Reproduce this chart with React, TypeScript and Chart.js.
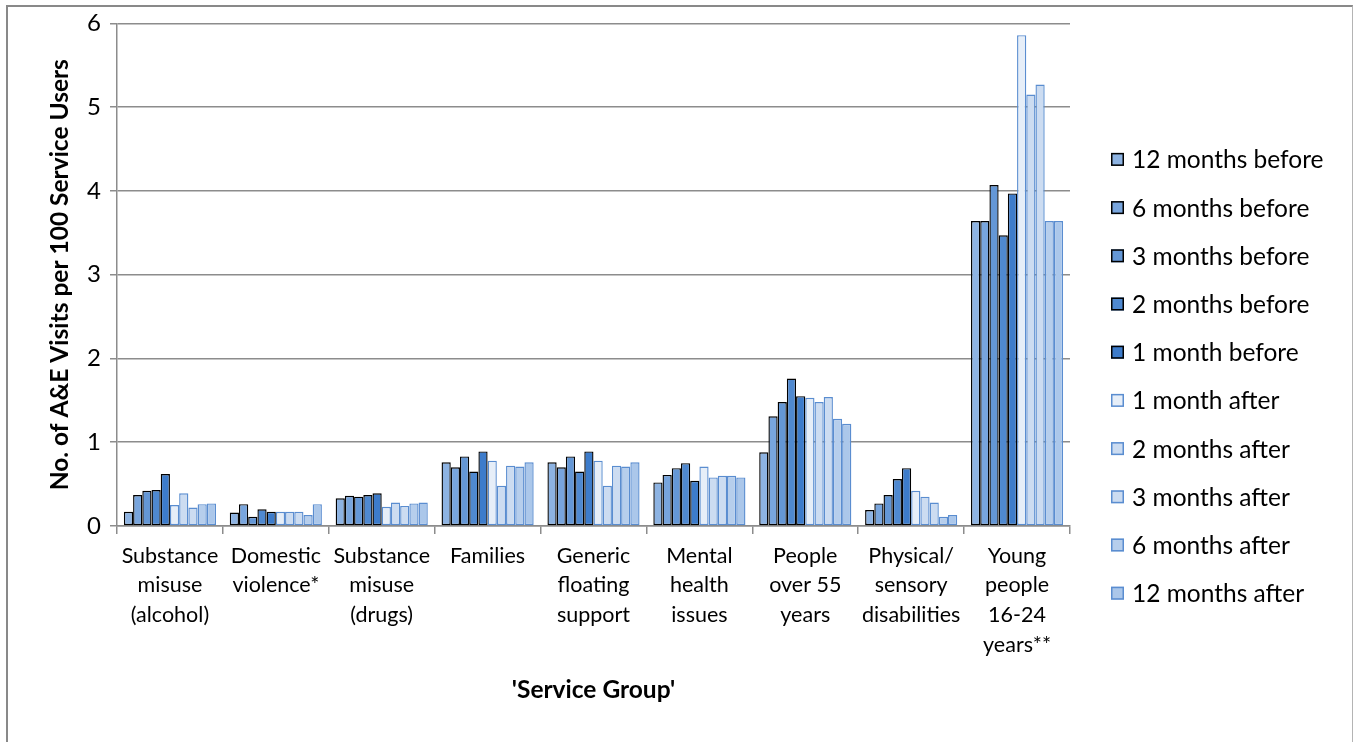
import React, { useEffect, useRef } from "react";
import { Chart, registerables } from "chart.js";

Chart.register(...registerables);

const FONT = "Lato, 'Liberation Sans', sans-serif";

const serviceGroups: string[][] = [
  ["Substance", "misuse", "(alcohol)"],
  ["Domestic", "violence*"],
  ["Substance", "misuse", "(drugs)"],
  ["Families"],
  ["Generic", "floating", "support"],
  ["Mental", "health", "issues"],
  ["People", "over 55", "years"],
  ["Physical/", "sensory", "disabilities"],
  ["Young", "people", "16-24", "years**"],
];

const periodLabels = [
  "12 months before",
  "6 months before",
  "3 months before",
  "2 months before",
  "1 month before",
  "1 month after",
  "2 months after",
  "3 months after",
  "6 months after",
  "12 months after",
];

const months12Before = [0.17, 0.16, 0.33, 0.76, 0.76, 0.52, 0.88, 0.19, 3.64];
const months6Before = [0.37, 0.26, 0.36, 0.7, 0.7, 0.61, 1.31, 0.27, 3.64];
const months3Before = [0.42, 0.11, 0.35, 0.83, 0.83, 0.69, 1.48, 0.37, 4.07];
const months2Before = [0.43, 0.2, 0.37, 0.65, 0.65, 0.75, 1.76, 0.56, 3.47];
const month1Before = [0.62, 0.17, 0.39, 0.89, 0.89, 0.54, 1.55, 0.69, 3.97];
const month1After = [0.25, 0.17, 0.23, 0.78, 0.78, 0.71, 1.53, 0.42, 5.86];
const months2After = [0.39, 0.17, 0.28, 0.48, 0.48, 0.58, 1.48, 0.35, 5.15];
const months3After = [0.22, 0.17, 0.24, 0.72, 0.72, 0.6, 1.54, 0.28, 5.27];
const months6After = [0.26, 0.13, 0.27, 0.71, 0.71, 0.6, 1.28, 0.11, 3.64];
const months12After = [0.27, 0.26, 0.28, 0.76, 0.76, 0.58, 1.22, 0.13, 3.64];

const seriesValues = [
  months12Before,
  months6Before,
  months3Before,
  months2Before,
  month1Before,
  month1After,
  months2After,
  months3After,
  months6After,
  months12After,
];

const fillColors = [
  "#8DB3E2",
  "#78A5DD",
  "#6497D6",
  "#4F89D0",
  "#3D7CCB",
  "#E6EEF8",
  "#CCDCF1",
  "#CCDCF1",
  "#B6CEEC",
  "#ABC7EA",
];

const BEFORE_EDGE = "#000000";
const AFTER_EDGE = "#5A8DD0";
const GRID = "#8C8C8C";

// Right-hand legend drawn next to the plot area, one row per dataset.
const sideLegend = {
  id: "sideLegend",
  afterDraw(chart: any) {
    const { ctx, chartArea } = chart;
    const box = 13;
    const gap = 41;
    const firstRow = chartArea.top + 136;
    const rowStep = 48.2;
    ctx.save();
    ctx.font = `24.5px ${FONT}`;
    ctx.textBaseline = "middle";
    ctx.textAlign = "left";
    chart.data.datasets.forEach((ds: any, i: number) => {
      const cy = firstRow + i * rowStep;
      const x = chartArea.right + gap;
      const y = cy - box / 2;
      ctx.fillStyle = ds.backgroundColor;
      ctx.fillRect(x, y, box, box);
      ctx.strokeStyle = ds.borderColor;
      ctx.lineWidth = 1.5;
      ctx.strokeRect(x + 0.75, y + 0.75, box - 1.5, box - 1.5);
      ctx.fillStyle = "#000000";
      ctx.fillText(ds.label, x + box + 8, cy + 1);
    });
    ctx.restore();
  },
};

export default function App() {
  const canvasRef = useRef<HTMLCanvasElement | null>(null);

  useEffect(() => {
    const canvas = canvasRef.current;
    if (!canvas) return;

    const datasets = periodLabels.map((label, i) => ({
      label,
      data: seriesValues[i],
      backgroundColor: fillColors[i],
      borderColor: i < 5 ? BEFORE_EDGE : AFTER_EDGE,
      borderWidth: 1.4,
      borderSkipped: false as const,
      categoryPercentage: 0.87,
      barPercentage: 1.0,
    }));

    const chart = new Chart(canvas, {
      type: "bar",
      data: { labels: serviceGroups, datasets },
      plugins: [sideLegend],
      options: {
        animation: false,
        responsive: false,
        maintainAspectRatio: false,
        layout: { padding: { left: 40, top: 22, right: 283, bottom: 0 } },
        plugins: {
          legend: { display: false },
          tooltip: { enabled: false },
        },
        scales: {
          x: {
            afterFit: (scale: any) => {
              scale.height = 216;
            },
            grid: {
              display: true,
              drawOnChartArea: false,
              drawTicks: true,
              tickLength: 8,
              color: GRID,
              lineWidth: 1.5,
              offset: true,
            },
            border: { display: true, color: GRID, width: 1.5 },
            ticks: {
              color: "#000000",
              autoSkip: false,
              maxRotation: 0,
              minRotation: 0,
              padding: 7,
              font: { family: FONT, size: 21.5, lineHeight: 1.38 },
            },
            title: {
              display: true,
              text: "'Service Group'",
              color: "#000000",
              font: { family: FONT, size: 24.5, weight: "bold", lineHeight: 1.2 },
              padding: { top: 0, bottom: 37 },
            },
          },
          y: {
            min: 0,
            max: 6,
            afterFit: (scale: any) => {
              scale.width = 77;
            },
            ticks: {
              stepSize: 1,
              color: "#000000",
              padding: 9,
              font: { family: FONT, size: 24 },
            },
            grid: {
              color: GRID,
              lineWidth: 1.5,
              tickLength: 7,
              drawTicks: true,
            },
            border: { display: true, color: GRID, width: 1.5 },
            title: {
              display: true,
              text: "No. of A&E Visits per 100 Service Users",
              color: "#000000",
              font: { family: FONT, size: 24.5, weight: "bold", lineHeight: 1.2 },
              padding: { top: 5, bottom: 0 },
            },
          },
        },
      },
    });

    return () => chart.destroy();
  }, []);

  return (
    <div
      style={{
        position: "absolute",
        left: 0,
        top: 0,
        width: 1353,
        height: 742,
        overflow: "hidden",
        background: "#ffffff",
      }}
    >
      <div
        style={{
          position: "absolute",
          left: 6,
          top: 5,
          width: 1344,
          height: 780,
          borderLeft: "2px solid #898989",
          borderTop: "2px solid #898989",
          borderRight: "1px solid #b4b4b4",
        }}
      />
      <canvas
        ref={canvasRef}
        width={1353}
        height={742}
        style={{ position: "absolute", left: 0, top: 0 }}
      />
    </div>
  );
}
